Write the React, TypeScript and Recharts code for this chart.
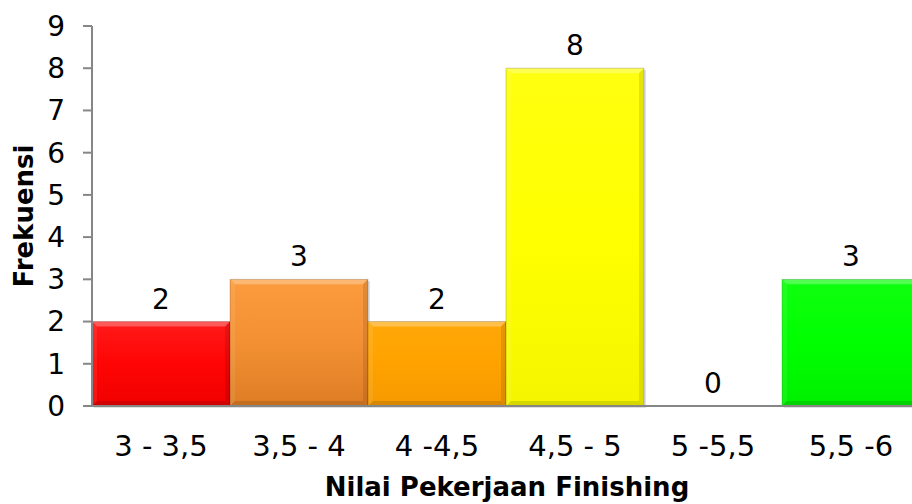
import React from 'react';
import { BarChart, Bar, XAxis, YAxis, LabelList } from 'recharts';

const categories = ['3 - 3,5', '3,5 - 4', '4 -4,5', '4,5 - 5', '5 -5,5', '5,5 -6'];
const frequencies = [2, 3, 2, 8, 0, 3];
const barColors = [
  ['#ff1a1a', '#ff0505', '#f00000'],
  ['#fb9c3e', '#f39033', '#dd7d24'],
  ['#ffa808', '#ffa200', '#f59a00'],
  ['#ffff10', '#ffff00', '#f5f500'],
  ['#10ff10', '#00ff00', '#00f000'],
  ['#10ff10', '#00ff00', '#00f000'],
];
const yTicks = [0, 1, 2, 3, 4, 5, 6, 7, 8, 9];

const data = categories.map((name, i) => ({ name, value: frequencies[i], idx: i }));

const FONT = '"DejaVu Sans", Verdana, sans-serif';

const BevelBar = (props: any) => {
  const { x, y, width, height, payload } = props;
  if (!height || height <= 0) return null;
  const i = payload.idx;
  const b = Math.min(5, height / 2);
  const id = `g${i}`;
  return (
    <g>
      <rect x={x + 2} y={y + 2} width={width} height={height} fill="#000" opacity={0.12} />
      <rect x={x} y={y} width={width} height={height} fill={`url(#${id})`} />
      <polygon points={`${x},${y} ${x + width},${y} ${x + width - b},${y + b} ${x + b},${y + b}`} fill="#fff" opacity={0.28} />
      <polygon points={`${x},${y} ${x + b},${y + b} ${x + b},${y + height - b} ${x},${y + height}`} fill="#fff" opacity={0.08} />
      <polygon points={`${x + width},${y} ${x + width},${y + height} ${x + width - b},${y + height - b} ${x + width - b},${y + b}`} fill="#000" opacity={0.1} />
      <polygon points={`${x},${y + height} ${x + width},${y + height} ${x + width - b},${y + height - b} ${x + b},${y + height - b}`} fill="#000" opacity={0.12} />
      <rect x={x} y={y} width={width} height={height} fill="none" stroke="#000" strokeOpacity={0.18} strokeWidth={1} />
    </g>
  );
};

const YTitle = (props: any) => {
  const { viewBox } = props;
  const cx = 24;
  const cy = viewBox.y + viewBox.height / 2;
  return (
    <text x={cx} y={cy} transform={`rotate(-90, ${cx}, ${cy})`} textAnchor="middle" dominantBaseline="central"
      fontFamily={FONT} fontWeight="bold" fontSize={26} fill="#000">
      Frekuensi
    </text>
  );
};

const XTitle = (props: any) => {
  const { viewBox } = props;
  const cx = 507;
  const cy = viewBox.y + 81;
  return (
    <text x={cx} y={cy} textAnchor="middle" dominantBaseline="central"
      fontFamily={FONT} fontWeight="bold" fontSize={26} fill="#000">
      Nilai Pekerjaan Finishing
    </text>
  );
};

export default function App() {
  return (
    <div style={{ position: 'absolute', left: 0, top: 0, width: 912, height: 504, overflow: 'hidden', background: '#fff' }}>
      <BarChart width={920} height={504} data={data} margin={{ top: 26, right: 0, left: 0, bottom: 0 }} barCategoryGap={0}>
        <defs>
          {barColors.map((c, i) => (
            <linearGradient key={i} id={`g${i}`} x1="0" y1="0" x2="0" y2="1">
              <stop offset="0%" stopColor={c[0]} />
              <stop offset="50%" stopColor={c[1]} />
              <stop offset="100%" stopColor={c[2]} />
            </linearGradient>
          ))}
        </defs>
        <YAxis
          width={92}
          domain={[0, 9]}
          ticks={yTicks}
          interval={0}
          tickSize={9}
          tickMargin={18}
          fontSize={28}
          axisLine={{ stroke: '#868686', strokeWidth: 2 }}
          tickLine={{ stroke: '#868686', strokeWidth: 2 }}
          tick={{ fill: '#000', fontSize: 28, fontFamily: FONT }}
          label={<YTitle />}
        />
        <XAxis
          dataKey="name"
          height={98}
          tickLine={false}
          tickMargin={23}
          fontSize={29}
          axisLine={{ stroke: '#868686', strokeWidth: 2 }}
          tick={{ fill: '#000', fontSize: 29, fontFamily: FONT }}
          interval={0}
          label={<XTitle />}
        />
        <Bar dataKey="value" shape={<BevelBar />} isAnimationActive={false}>
          <LabelList dataKey="value" position="top" offset={13} fill="#000" fontSize={28} fontFamily={FONT} />
        </Bar>
      </BarChart>
    </div>
  );
}
